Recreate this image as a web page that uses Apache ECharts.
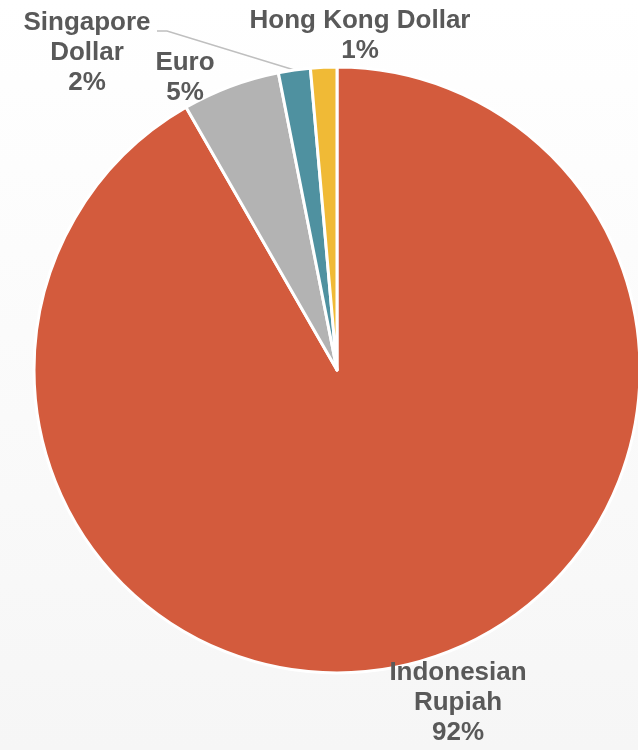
<!DOCTYPE html>
<html>
<head>
<meta charset="utf-8">
<script src="https://cdn.jsdelivr.net/npm/echarts@6/dist/echarts.min.js"></script>
<style>
    html, body { margin: 0; padding: 0; }
    #chartDiv { width: 638px; height: 750px; }
</style>
</head>
<body>
<div id="chartDiv"></div>
<script>
// data (clockwise from 12 o'clock)
let currencies = ["Indonesian\nRupiah", "Euro", "Singapore\nDollar", "Hong Kong Dollar"];
let shares = [91.7, 5.2, 1.7, 1.4];
let sliceColors = ["#D35B3D", "#B3B3B3", "#4F91A0", "#F0BA36"];

// where each label block sits (centre of the block)
let labelSpots = [
    [458, 703],
    [185, 78],
    [87, 53],
    [360, 36],
];

let chart = echarts.init(document.getElementById("chartDiv"));

let pieData = currencies.map(function (name, i) {
    return {
        name: name,
        value: shares[i],
        itemStyle: { color: sliceColors[i] },
        labelLine: { show: i === 2 },
    };
});

let options = {
    backgroundColor: {
        type: "linear",
        x: 0, y: 0, x2: 0, y2: 1,
        colorStops: [
            { offset: 0, color: "#ffffff" },
            { offset: 1, color: "#f6f6f6" },
        ],
    },
    animation: false,
    series: {
        type: "pie",
        center: [337, 370],
        radius: 303,
        startAngle: 90,
        clockwise: true,
        avoidLabelOverlap: false,
        itemStyle: {
            borderColor: "#ffffff",
            borderWidth: 3,
        },
        label: {
            position: "outside",
            formatter: function (p) {
                return p.name + "\n" + Math.round(p.percent) + "%";
            },
            fontFamily: "Liberation Sans, Arial, sans-serif",
            fontWeight: "bold",
            fontSize: 26,
            lineHeight: 30,
            color: "#595959",
            align: "center",
        },
        labelLine: {
            lineStyle: { color: "#BFBFBF", width: 1.5 },
        },
        labelLayout: function (params) {
            let spot = labelSpots[params.dataIndex];
            let out = {
                x: spot[0],
                y: spot[1],
                align: "center",
                verticalAlign: "middle",
                hideOverlap: false,
            };
            if (params.dataIndex === 2 && params.labelLinePoints) {
                let start = params.labelLinePoints[0];
                out.labelLinePoints = [
                    start,
                    [spot[0] + 80, spot[1] - 22],
                    [spot[0] + 70, spot[1] - 22],
                ];
            }
            return out;
        },
        data: pieData,
    },
};

chart.setOption(options);
</script>
</body>
</html>
